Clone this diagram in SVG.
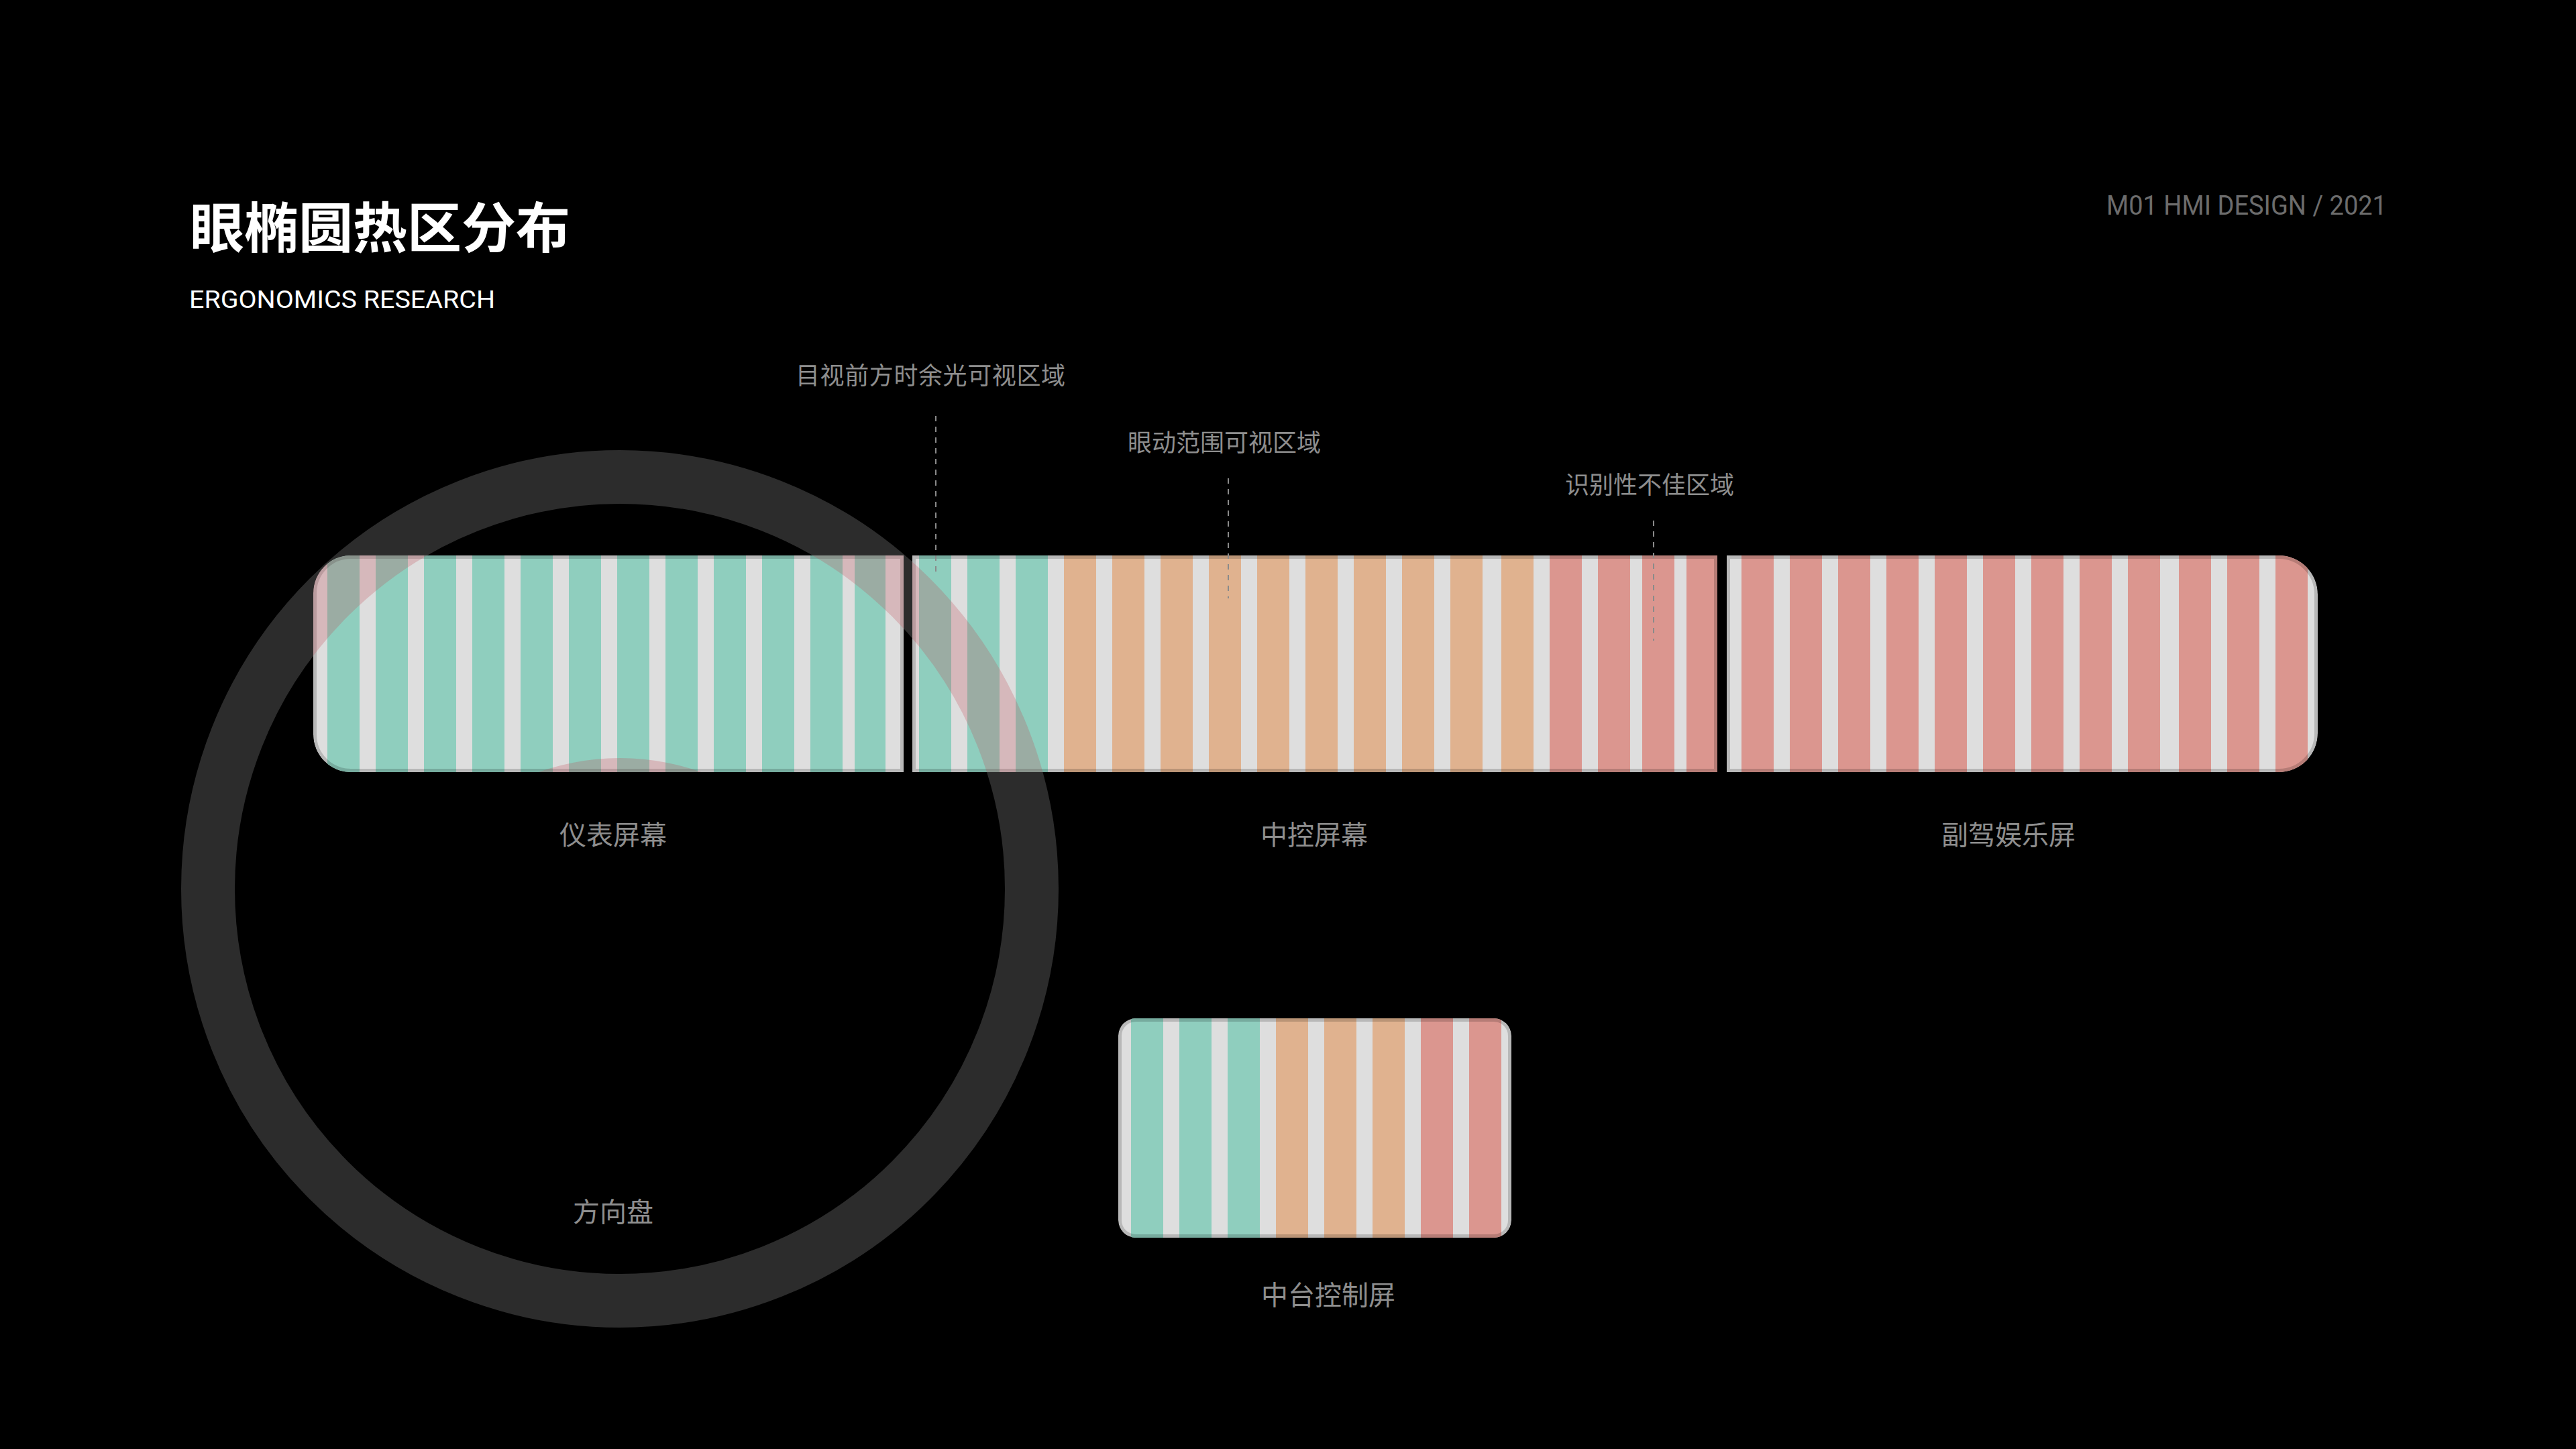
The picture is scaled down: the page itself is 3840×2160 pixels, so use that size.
<svg xmlns="http://www.w3.org/2000/svg" width="3840" height="2160" viewBox="0 0 3840 2160">
  <style>
    .title { font-family: "Noto Sans CJK SC", "Noto Sans", sans-serif; font-weight: 700; font-size: 81px; fill: #ffffff; }
    .sub { font-family: Roboto, "Liberation Sans", sans-serif; font-size: 37px; fill: #ffffff; }
    .tag { font-family: Roboto, "Liberation Sans", sans-serif; font-size: 40px; fill: #6c6c6c; }
    .note { font-family: "Noto Sans CJK SC", sans-serif; font-size: 36px; fill: #8e8e8e; }
    .lbl { font-family: "Noto Sans CJK SC", sans-serif; font-size: 40px; fill: #8e8e8e; text-anchor: middle; }
    .g { fill: #dedede; }
    .t { fill: #8fcebe; }
    .o { fill: #e0b28f; }
    .r { fill: #db968f; }
    .edge { fill: none; stroke: #000000; stroke-opacity: 0.17; stroke-width: 10; }
    .dash { stroke: #8a8a8a; stroke-width: 2; stroke-dasharray: 8 8; fill: none; }
  </style>
  <defs>
    <path id="s1" d="M 523 828 H 1347 V 1151 H 523 A 56 56 0 0 1 467 1095 V 884 A 56 56 0 0 1 523 828 Z"/>
    <rect id="s2" x="1360" y="828" width="1200" height="323"/>
    <path id="s3" d="M 2574 828 H 3397 A 58 58 0 0 1 3455 886 V 1093 A 58 58 0 0 1 3397 1151 H 2574 Z"/>
    <rect id="s4" x="1667" y="1518" width="586" height="327" rx="26" ry="26"/>
    <clipPath id="c1"><use href="#s1"/></clipPath>
    <clipPath id="c2"><use href="#s2"/></clipPath>
    <clipPath id="c3"><use href="#s3"/></clipPath>
    <clipPath id="c4"><use href="#s4"/></clipPath>
    <clipPath id="c12"><use href="#s1"/><use href="#s2"/></clipPath>
  </defs>

  <rect x="0" y="0" width="3840" height="2160" fill="#000000"/>

  <g id="header">
    <text class="title" x="283" y="369">眼椭圆热区分布</text>
    <text class="sub" x="282" y="459" textLength="456" lengthAdjust="spacingAndGlyphs">ERGONOMICS RESEARCH</text>
    <text class="tag" x="3140" y="320" textLength="418" lengthAdjust="spacingAndGlyphs">M01 HMI DESIGN / 2021</text>
  </g>

  <g id="steering-wheel">
    <circle cx="924" cy="1325" r="614" fill="none" stroke="#2c2c2c" stroke-width="80"/>
    <circle cx="924" cy="1490" r="360" fill="#000000"/>
    <text class="lbl" x="914" y="1821">方向盘</text>
  </g>

  <g id="cluster-screen">
    <g clip-path="url(#c1)">
      <use href="#s1" class="g"/>
      <rect class="t" x="488" y="828" width="48" height="323"/>
      <rect class="t" x="560" y="828" width="48" height="323"/>
      <rect class="t" x="632" y="828" width="48" height="323"/>
      <rect class="t" x="704" y="828" width="48" height="323"/>
      <rect class="t" x="776" y="828" width="48" height="323"/>
      <rect class="t" x="848" y="828" width="48" height="323"/>
      <rect class="t" x="920" y="828" width="48" height="323"/>
      <rect class="t" x="992" y="828" width="48" height="323"/>
      <rect class="t" x="1064" y="828" width="48" height="323"/>
      <rect class="t" x="1136" y="828" width="48" height="323"/>
      <rect class="t" x="1208" y="828" width="48" height="323"/>
      <rect class="t" x="1274" y="828" width="46" height="323"/>
      <use href="#s1" class="edge"/>
    </g>
    <text class="lbl" x="914" y="1259">仪表屏幕</text>
  </g>

  <g id="center-screen">
    <g clip-path="url(#c2)">
      <use href="#s2" class="g"/>
      <rect class="t" x="1370" y="828" width="48" height="323"/>
      <rect class="t" x="1442" y="828" width="48" height="323"/>
      <rect class="t" x="1514" y="828" width="48" height="323"/>
      <rect class="o" x="1586" y="828" width="48" height="323"/>
      <rect class="o" x="1658" y="828" width="48" height="323"/>
      <rect class="o" x="1730" y="828" width="48" height="323"/>
      <rect class="o" x="1802" y="828" width="48" height="323"/>
      <rect class="o" x="1874" y="828" width="48" height="323"/>
      <rect class="o" x="1946" y="828" width="48" height="323"/>
      <rect class="o" x="2018" y="828" width="48" height="323"/>
      <rect class="o" x="2090" y="828" width="48" height="323"/>
      <rect class="o" x="2162" y="828" width="48" height="323"/>
      <rect class="o" x="2238" y="828" width="48" height="323"/>
      <rect class="r" x="2310" y="828" width="48" height="323"/>
      <rect class="r" x="2382" y="828" width="48" height="323"/>
      <rect class="r" x="2448" y="828" width="48" height="323"/>
      <rect class="r" x="2514" y="828" width="46" height="323"/>
      <use href="#s2" class="edge"/>
    </g>
    <text class="lbl" x="1959" y="1259">中控屏幕</text>
  </g>

  <g id="passenger-screen">
    <g clip-path="url(#c3)">
      <use href="#s3" class="g"/>
      <rect class="r" x="2596" y="828" width="48" height="323"/>
      <rect class="r" x="2668" y="828" width="48" height="323"/>
      <rect class="r" x="2740" y="828" width="48" height="323"/>
      <rect class="r" x="2812" y="828" width="48" height="323"/>
      <rect class="r" x="2884" y="828" width="48" height="323"/>
      <rect class="r" x="2956" y="828" width="48" height="323"/>
      <rect class="r" x="3028" y="828" width="48" height="323"/>
      <rect class="r" x="3100" y="828" width="48" height="323"/>
      <rect class="r" x="3172" y="828" width="48" height="323"/>
      <rect class="r" x="3248" y="828" width="48" height="323"/>
      <rect class="r" x="3320" y="828" width="48" height="323"/>
      <rect class="r" x="3392" y="828" width="48" height="323"/>
      <use href="#s3" class="edge"/>
    </g>
    <text class="lbl" x="2994" y="1259">副驾娱乐屏</text>
  </g>

  <g id="ring-overlap" clip-path="url(#c12)">
    <circle cx="924" cy="1325" r="614" fill="none" stroke="#be4654" stroke-opacity="0.25" stroke-width="80"/>
    <circle cx="924" cy="1490" r="360" fill="#be4654" fill-opacity="0.25"/>
  </g>

  <g id="console-screen">
    <g clip-path="url(#c4)">
      <use href="#s4" class="g"/>
      <rect class="t" x="1686" y="1518" width="48" height="327"/>
      <rect class="t" x="1758" y="1518" width="48" height="327"/>
      <rect class="t" x="1830" y="1518" width="48" height="327"/>
      <rect class="o" x="1902" y="1518" width="48" height="327"/>
      <rect class="o" x="1974" y="1518" width="48" height="327"/>
      <rect class="o" x="2046" y="1518" width="48" height="327"/>
      <rect class="r" x="2118" y="1518" width="48" height="327"/>
      <rect class="r" x="2190" y="1518" width="48" height="327"/>
      <use href="#s4" class="edge"/>
    </g>
    <text class="lbl" x="1980" y="1945">中台控制屏</text>
  </g>

  <g id="annotations">
    <text class="note" x="1186" y="573" textLength="402">目视前方时余光可视区域</text>
    <text class="note" x="1681" y="673">眼动范围可视区域</text>
    <text class="note" x="2333" y="736">识别性不佳区域</text>
  </g>

  <g id="connectors">
    <line class="dash" x1="1395" y1="620" x2="1395" y2="852"/>
    <line class="dash" x1="1831" y1="713" x2="1831" y2="892"/>
    <line class="dash" x1="2465" y1="776" x2="2465" y2="955"/>
  </g>
</svg>
